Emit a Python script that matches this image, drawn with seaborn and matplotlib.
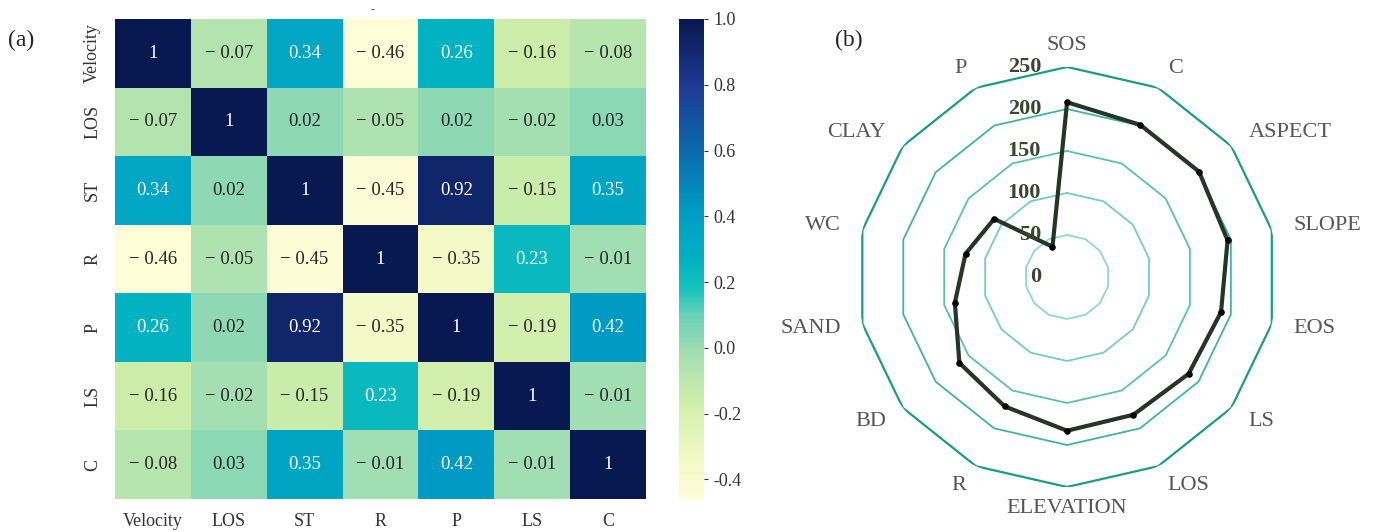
import numpy as np
import pandas as pd
import matplotlib
matplotlib.use("Agg")
import matplotlib.pyplot as plt
from matplotlib.colors import LinearSegmentedColormap
import seaborn as sns

# correlation matrix (a)
variables = ["Velocity", "LOS", "ST", "R", "P", "LS", "C"]
row_velocity = [1, -0.07, 0.34, -0.46, 0.26, -0.16, -0.08]
row_los = [-0.07, 1, 0.02, -0.05, 0.02, -0.02, 0.03]
row_st = [0.34, 0.02, 1, -0.45, 0.92, -0.15, 0.35]
row_r = [-0.46, -0.05, -0.45, 1, -0.35, 0.23, -0.01]
row_p = [0.26, 0.02, 0.92, -0.35, 1, -0.19, 0.42]
row_ls = [-0.16, -0.02, -0.15, 0.23, -0.19, 1, -0.01]
row_c = [-0.08, 0.03, 0.35, -0.01, 0.42, -0.01, 1]

# radar chart (b)
radar_labels = ["SOS", "C", "ASPECT", "SLOPE", "EOS", "LS", "LOS", "ELEVATION",
                "R", "BD", "SAND", "WC", "CLAY", "P"]
radar_values = [208, 201, 201, 196, 188, 185, 182, 183, 171, 164, 137, 124, 111, 40]
radar_rings = [50, 100, 150, 200, 250]

sns.set_style("white")
plt.rcParams['font.family'] = ['Liberation Serif', 'DejaVu Serif']
plt.rcParams['axes.unicode_minus'] = False

corr = pd.DataFrame([row_velocity, row_los, row_st, row_r, row_p, row_ls, row_c],
                    index=variables, columns=variables)

# annotation text like "− 0.07"
annot = corr.map(lambda v: "1" if v == 1 else (f"\u2212 {abs(v):.2f}" if v < 0 else f"{v:.2f}"))

# a more saturated YlGnBu, as in the figure
cmap = LinearSegmentedColormap.from_list("ylgnbu_sat", [
    (0.00, "#fdfdd8"), (0.08, "#f2f9c6"), (0.20, "#cdeea9"), (0.30, "#a6dfb2"),
    (0.34, "#86d6b4"), (0.38, "#6cd2ba"), (0.44, "#14c2bc"), (0.50, "#00b0c2"),
    (0.60, "#009cc4"), (0.72, "#0a6cb0"), (0.86, "#1e3a96"), (1.00, "#081850")])

fig = plt.figure(figsize=(13.75, 5.32), dpi=100)
ax = fig.add_axes([0.0836, 0.0620, 0.3862, 0.9023])
cax = fig.add_axes([0.4938, 0.0620, 0.0182, 0.9023])

sns.heatmap(corr, ax=ax, cbar_ax=cax, cmap=cmap, annot=annot.values, fmt="",
            annot_kws={"fontsize": 13.5})
ax.tick_params(length=0, labelsize=13, colors="#333333")
ax.tick_params(axis="x", pad=10)
ax.tick_params(axis="y", pad=10)
ax.set_yticklabels(variables, rotation=90, va="center")
ax.set_xticklabels(variables, rotation=0)
cax.tick_params(labelsize=13, length=3, colors="#333333")
cax.set_yticks([1.0, 0.8, 0.6, 0.4, 0.2, 0.0, -0.2, -0.4])
cax.set_yticklabels(["1.0", "0.8", "0.6", "0.4", "0.2", "0.0", "-0.2", "-0.4"])

fig.text(8 / 1375, 1 - 40 / 532, "(a)", fontsize=17, va="center")
fig.text(372 / 1375, 1 - 10 / 532, "-", fontsize=8, ha="center", va="center")

# radar
rax = fig.add_axes([0.6233, 0.0846, 0.3055, 0.7895], projection="polar")
rax.set_theta_zero_location("N")
rax.set_theta_direction(-1)
n = len(radar_labels)
angles = np.linspace(0, 2 * np.pi, n, endpoint=False)
closed = np.append(angles, angles[0])

ring_colors = ["#8fd9c8", "#72cfba", "#58c3a9", "#3fb59d", "#1a9c86"]
for ring, col in zip(radar_rings, ring_colors):
    rax.plot(closed, [ring] * (n + 1), color=col, lw=1.6 if ring == 250 else 1.3, zorder=1)

vals = np.append(radar_values, radar_values[0])
rax.plot(closed, vals, color="#263626", lw=3, zorder=3)
rax.scatter(angles, radar_values, s=14, color="black", zorder=4)

rax.set_ylim(0, 250)
rax.grid(False)
rax.spines["polar"].set_visible(False)
rax.set_xticks([])
rax.set_yticks([])

for ang, lab in zip(angles, radar_labels):
    deg = np.degrees(ang)
    if np.isclose(deg, 0) or np.isclose(deg, 180):
        ha = "center"
    elif deg < 180:
        ha = "left"
    else:
        ha = "right"
    rax.text(ang, 276, lab, ha=ha, va="center", fontsize=16, color="#555555")

for r in [0] + radar_rings:
    rax.annotate(str(r), xy=(0, r), xytext=(-26, 0), textcoords="offset pixels",
                 ha="right", va="center", fontsize=16, fontweight="bold", color="#3a4630")

fig.text(835 / 1375, 1 - 40 / 532, "(b)", fontsize=17, va="center")

fig.savefig("out.png", dpi=100)
